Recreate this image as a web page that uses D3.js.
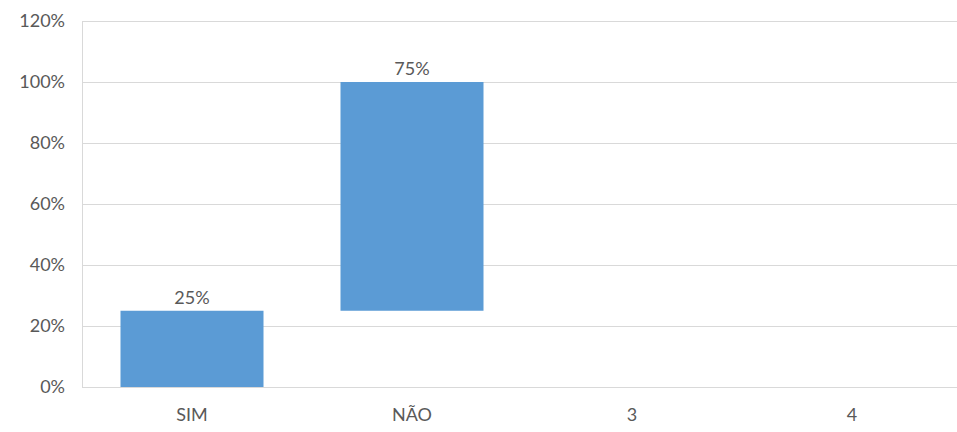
<!DOCTYPE html>
<html>
<head>
<meta charset="utf-8">
<script src="https://cdn.jsdelivr.net/npm/d3@7"></script>
<style>
  html, body { margin: 0; padding: 0; background: #fff; }
  svg { display: block; font-family: Lato, "Open Sans", sans-serif; }
</style>
</head>
<body>
<svg id="chart" width="957" height="432"></svg>
<script>
// Waterfall: each category stacks on the running total of the previous ones
const categories = ["SIM", "NÃO", "3", "4"];
const values = [0.25, 0.75, null, null];
const yTicks = [0, 0.2, 0.4, 0.6, 0.8, 1.0, 1.2];

const svg = d3.select("#chart");
const plotLeft = 82, plotRight = 962, plotTop = 21, plotBottom = 387;
const fontSize = 18;

const x = d3.scaleBand()
  .domain(categories)
  .range([plotLeft, plotRight])
  .paddingInner(0.35)
  .paddingOuter(0.175);

const y = d3.scaleLinear().domain([0, 1.2]).range([plotBottom, plotTop]);

// build segments from the running total
let running = 0;
const segments = categories.map((c, i) => {
  const v = values[i];
  if (v == null) return { cat: c, v: null };
  const s = { cat: c, v, start: running, end: running + v };
  running += v;
  return s;
});

// horizontal gridlines
svg.append("g")
  .selectAll("line")
  .data(yTicks)
  .join("line")
  .attr("x1", plotLeft).attr("x2", plotRight)
  .attr("y1", d => Math.round(y(d)) + 0.5)
  .attr("y2", d => Math.round(y(d)) + 0.5)
  .attr("stroke", "#d9d9d9")
  .attr("stroke-width", 1);

// vertical axis line
svg.append("line")
  .attr("x1", plotLeft + 0.5).attr("x2", plotLeft + 0.5)
  .attr("y1", plotTop).attr("y2", plotBottom)
  .attr("stroke", "#d9d9d9");

// y tick labels
const fmt = d3.format(".0%");
svg.append("g")
  .selectAll("text")
  .data(yTicks)
  .join("text")
  .attr("x", 65)
  .attr("y", d => y(d))
  .attr("dy", "0.35em")
  .attr("text-anchor", "end")
  .attr("fill", "#595959")
  .attr("font-size", fontSize)
  .text(d => fmt(d));

// bars
const drawn = segments.filter(s => s.v != null);
svg.append("g")
  .selectAll("rect")
  .data(drawn)
  .join("rect")
  .attr("x", d => x(d.cat))
  .attr("width", x.bandwidth())
  .attr("y", d => y(d.end))
  .attr("height", d => y(d.start) - y(d.end))
  .attr("fill", "#5b9bd5");

// value labels above bars
svg.append("g")
  .selectAll("text")
  .data(drawn)
  .join("text")
  .attr("x", d => x(d.cat) + x.bandwidth() / 2)
  .attr("y", d => y(d.end) - 7)
  .attr("text-anchor", "middle")
  .attr("fill", "#595959")
  .attr("font-size", fontSize)
  .text(d => fmt(d.v));

// category labels
svg.append("g")
  .selectAll("text")
  .data(categories)
  .join("text")
  .attr("x", d => x(d) + x.bandwidth() / 2)
  .attr("y", 415)
  .attr("dy", "0.35em")
  .attr("text-anchor", "middle")
  .attr("fill", "#595959")
  .attr("font-size", fontSize)
  .text(d => d);
</script>
</body>
</html>
